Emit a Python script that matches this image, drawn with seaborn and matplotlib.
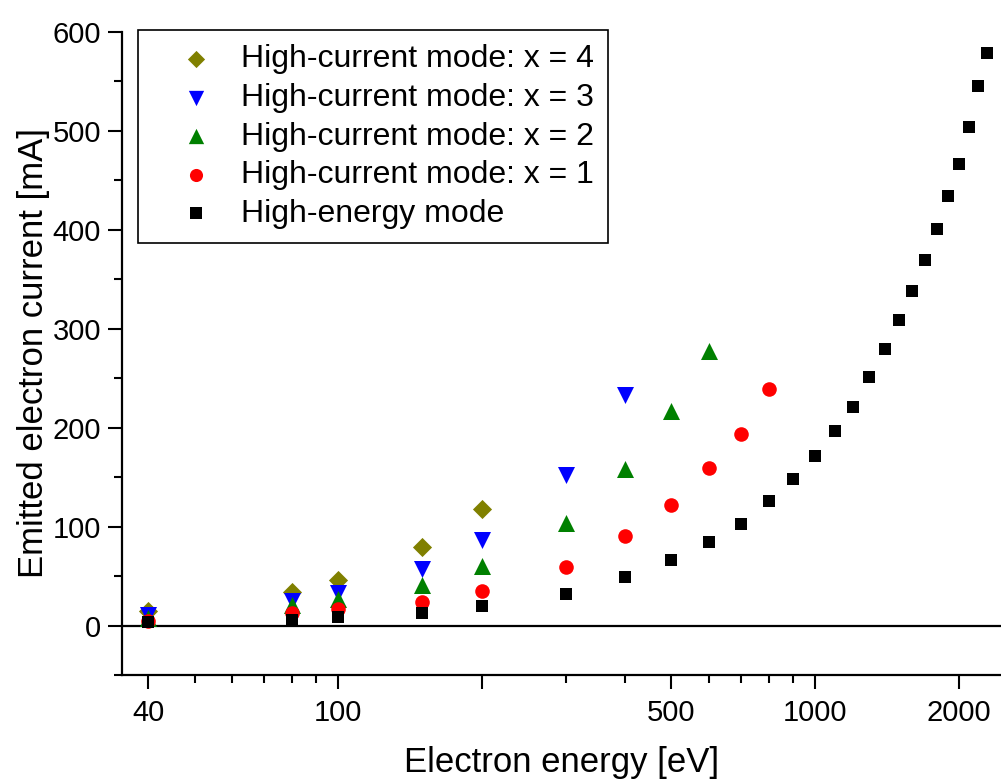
import numpy as np
import pandas as pd
import matplotlib
matplotlib.use("Agg")
import matplotlib.pyplot as plt
import seaborn as sns
from matplotlib.ticker import FixedLocator, NullFormatter

# Electron energy [eV]
energy_low = [40, 80, 100, 150, 200]
energy_x4 = energy_low
energy_x3 = energy_low + [300, 400]
energy_x2 = energy_low + [300, 400, 500, 600]
energy_x1 = energy_low + [300, 400, 500, 600, 700, 800]
energy_he = energy_low + [300, 400, 500, 600, 700, 800, 900, 1000, 1100, 1200,
                          1300, 1400, 1500, 1600, 1700, 1800, 1900, 2000, 2100,
                          2200, 2300]

# Emitted electron current [mA]
current_x4 = [15, 34, 46, 79, 118]
current_x3 = [11, 25, 33, 57, 86, 152, 233]
current_x2 = [8, 21, 27, 41, 60, 104, 158, 217, 278]
current_x1 = [5, 13, 17, 24, 35, 59, 91, 122, 159, 194, 239]
current_he = [4, 6, 9, 13, 19.5, 32, 49, 66, 84, 103, 126, 148, 171, 197, 221,
              251, 280, 309, 338, 370, 401, 434, 467, 504, 545, 579]

SERIES = [
    ("High-current mode: x = 4", energy_x4, current_x4, "#808000", "D", 95),
    ("High-current mode: x = 3", energy_x3, current_x3, "#0000ff", "v", 150),
    ("High-current mode: x = 2", energy_x2, current_x2, "#008000", "^", 150),
    ("High-current mode: x = 1", energy_x1, current_x1, "#ff0000", "o", 110),
    ("High-energy mode", energy_he, current_he, "#000000", "s", 85),
]

sns.set_style("ticks")
plt.rcParams['font.family'] = ['Liberation Sans', 'DejaVu Sans']
plt.rcParams['text.color'] = 'black'
plt.rcParams['axes.labelcolor'] = 'black'
plt.rcParams['xtick.color'] = 'black'
plt.rcParams['ytick.color'] = 'black'

fig = plt.figure(figsize=(10.01, 7.82), dpi=100)
ax = fig.add_axes([122 / 1001, 107 / 782, 1 - 122 / 1001, (675 - 32) / 782])

for label, x, y, color, marker, size in SERIES:
    df = pd.DataFrame({"energy": x, "current": y})
    sns.scatterplot(data=df, x="energy", y="current", ax=ax, color=color,
                    marker=marker, s=size, linewidth=0, label=label, zorder=3)

ax.axhline(0, color="black", lw=1.6, zorder=2)

ax.set_xscale("log")
ax.set_xlim(35.2, 2455)
ax.set_ylim(-50, 600)

ax.xaxis.set_major_locator(FixedLocator([40, 100, 200, 500, 1000, 2000]))
ax.xaxis.set_minor_locator(FixedLocator([50, 60, 70, 80, 90, 300, 400, 600,
                                         700, 800, 900]))
ax.set_xticklabels(["40", "100", "", "500", "1000", "2000"])
ax.xaxis.set_minor_formatter(NullFormatter())
ax.set_yticks([0, 100, 200, 300, 400, 500, 600])
ax.yaxis.set_minor_locator(FixedLocator([-50, 50, 150, 250, 350, 450, 550]))

ax.tick_params(axis="both", which="major", direction="out", length=10,
               width=1.5, labelsize=21, color="black", labelcolor="black")
ax.tick_params(axis="both", which="minor", direction="out", length=6,
               width=1.5, color="black")
ax.tick_params(axis="x", pad=7)
ax.tick_params(axis="y", pad=5)

for side in ["top", "right"]:
    ax.spines[side].set_visible(False)
for side in ["left", "bottom"]:
    ax.spines[side].set_linewidth(1.6)
    ax.spines[side].set_color("black")

ax.set_xlabel("Electron energy [eV]", fontsize=25, labelpad=14)
ax.set_ylabel("Emitted electron current [mA]", fontsize=25, labelpad=2)

leg = ax.legend(loc="upper left", bbox_to_anchor=(138 / 1001, 1 - 30 / 782),
                bbox_transform=fig.transFigure, fontsize=23, frameon=True,
                fancybox=False, framealpha=1, edgecolor="black",
                borderpad=0.45, labelspacing=0.27, handlelength=2.75,
                handletextpad=0.02, borderaxespad=0, markerscale=0.9)
leg.get_frame().set_linewidth(1.2)

fig.savefig("out.png", dpi=100)
